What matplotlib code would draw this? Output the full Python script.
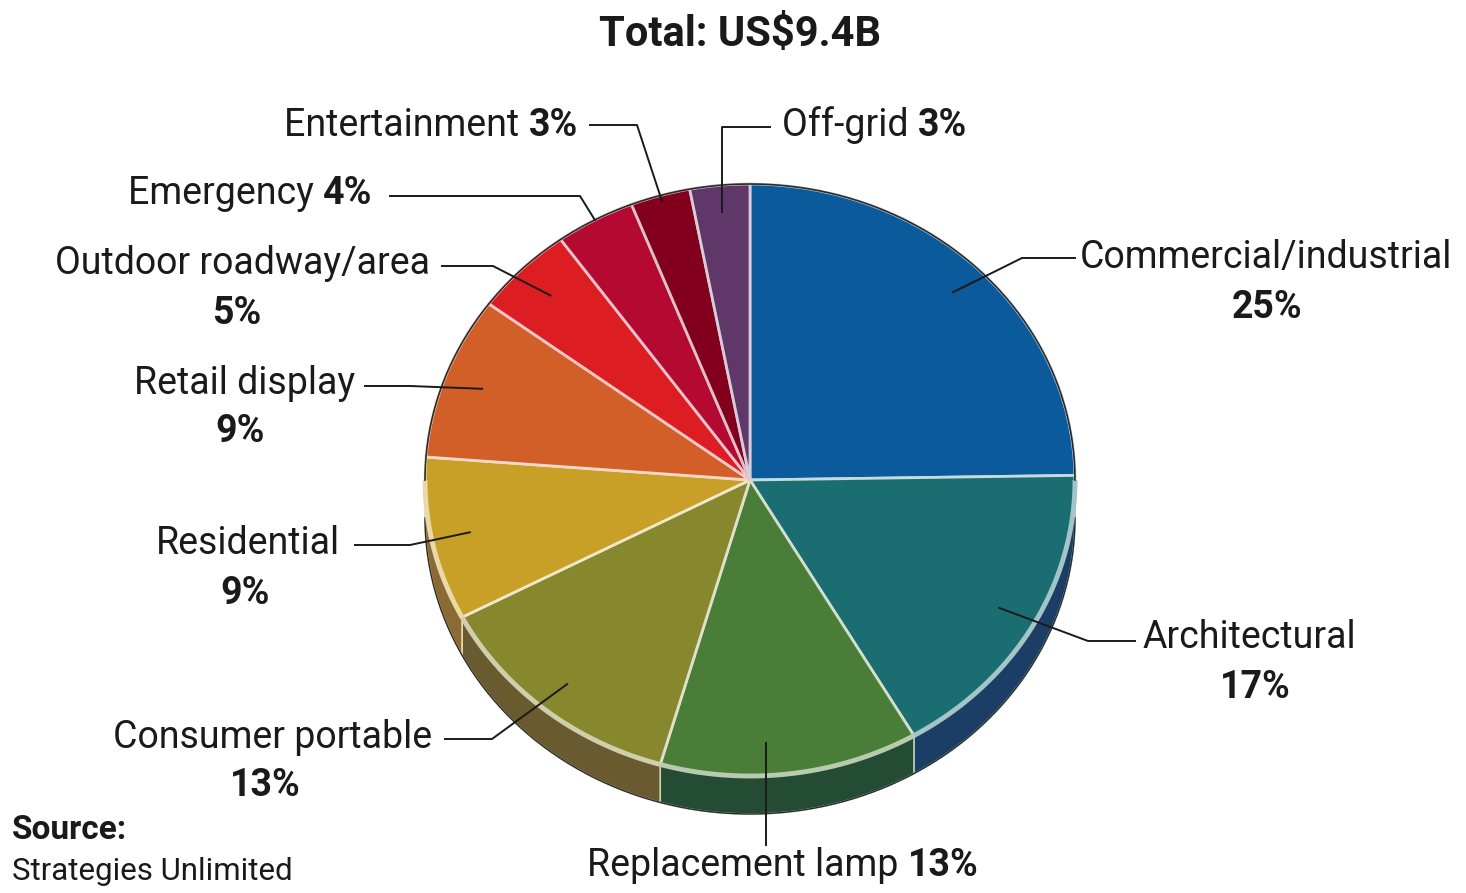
import numpy as np
import matplotlib
matplotlib.use('Agg')
from matplotlib import pyplot as plt
from matplotlib.patches import Polygon
from matplotlib.colors import to_rgb

# 市场份额 (%)，从正上方开始顺时针
segments = ['Commercial/industrial', 'Architectural', 'Replacement lamp',
            'Consumer portable', 'Residential', 'Retail display',
            'Outdoor roadway/area', 'Emergency', 'Entertainment', 'Off-grid']
shares = [25, 17, 13, 13, 9, 9, 5, 4, 3, 3]
title = 'Total: US$9.4B'

colors = ['#0a5a9c', '#1a6e72', '#4a7d38', '#87872e', '#c8a028',
          '#d25f28', '#dc1e23', '#b40a32', '#82001e', '#5f3769']
side_colors = ['#0a3c6e', '#1c3e66', '#244b34', '#6a5a30', '#8c6a34',
               '#8c3c1c', '#8c1418', '#70061e', '#500012', '#3c2244']

W, H = 1466, 893
cx, cy = 750, 480          # 饼图中心 (像素)
rx, ry = 325, 296          # 椭圆半径
depth = 38                 # 侧面厚度
k = ry / rx

fonts = ['Liberation Sans Narrow', 'Roboto', 'DejaVu Sans']
plt.rcParams['font.family'] = fonts

fig = plt.figure(figsize=(W / 100, H / 100), dpi=100)
fig.patch.set_facecolor('white')

# 饼图坐标轴：x 为像素，y 按 k 缩放，使圆变成椭圆
ax = fig.add_axes([0, 0, 1, 1])
pc = (cx, (H - cy) / k)
wedges, _ = ax.pie(shares, colors=colors, startangle=90, counterclock=False,
                   center=pc, radius=rx,
                   wedgeprops=dict(linewidth=2.0, zorder=3))
ax.set_aspect('auto')
ax.set_xlim(0, W)
ax.set_ylim(0, H / k)
ax.axis('off')


def tint(c, a):
    r = np.array(to_rgb(c))
    return tuple(r + (1 - r) * a)


for w, c in zip(wedges, colors):
    w.set_edgecolor(tint(c, 0.75))

# 侧面 (下半圈)
d = depth / k
for w, sc, c in zip(wedges, side_colors, colors):
    t1, t2 = w.theta1, w.theta2
    for off in (-360, 0, 360):
        a = max(t1, 180 + off)
        b = min(t2, 360 + off)
        if b <= a:
            continue
        phi = np.radians(np.linspace(a, b, 60))
        xs = pc[0] + rx * np.cos(phi)
        ys = pc[1] + rx * np.sin(phi)
        pts = np.concatenate([np.c_[xs, ys], np.c_[xs[::-1], ys[::-1] - d]])
        ax.add_patch(Polygon(pts, closed=True, facecolor=sc,
                             edgecolor=tint(c, 0.6), linewidth=1.2, zorder=1))
        # 顶面下沿的高光
        ax.plot(xs, ys, color=tint(c, 0.6), lw=3.5, zorder=4,
                solid_capstyle='butt')

# 上半圈的深色轮廓
phi = np.radians(np.linspace(0, 180, 200))
ax.plot(pc[0] + rx * np.cos(phi), pc[1] + rx * np.sin(phi),
        color='#2a2a2a', lw=1.2, zorder=4)
phi = np.radians(np.linspace(180, 360, 200))
ax.plot(pc[0] + rx * np.cos(phi), pc[1] + rx * np.sin(phi) - d,
        color='#2a2a2a', lw=1.0, zorder=2)

# 文字和引线坐标轴 (像素坐标，y 向下)
tx = fig.add_axes([0, 0, 1, 1], facecolor='none')
tx.set_xlim(0, W)
tx.set_ylim(H, 0)
tx.axis('off')
rend = fig.canvas.get_renderer()

fs = 27
tx.text(740, 35, title, ha='center', va='center', fontsize=30,
        fontweight='bold', color='#1a1a1a')


def mixed(x, y, reg, bold, ha):
    # 常规文字 + 粗体百分比，同一基线
    t1 = tx.text(0, y, reg + ' ', fontsize=fs, va='center', color='#1a1a1a')
    t2 = tx.text(0, y, bold, fontsize=fs, va='center', fontweight='bold',
                 color='#1a1a1a')
    w1 = t1.get_window_extent(rend).width
    w2 = t2.get_window_extent(rend).width
    if ha == 'left':
        x0 = x
    elif ha == 'right':
        x0 = x - w1 - w2
    else:
        x0 = x - (w1 + w2) / 2
    t1.set_x(x0)
    t2.set_x(x0 + w1)


# 标签布局: (引线起点半径比例, 角度偏移, 拐点, 终点, 文字位置, 对齐, 单行?, 百分比位置)
layout = [
    (0.89, 0, (1022, 258), (1075, 258), (1080, 258), 'left', False, (1267, 307)),
    (0.88, 0, (1088, 641), (1135, 641), (1143, 637), 'left', False, (1255, 688)),
    (0.89, -4, None, (767, 845), (783, 865), 'center', True, None),
    (0.89, 0, (492, 739), (445, 739), (432, 737), 'right', False, (265, 785)),
    (0.88, 0, (410, 545), (355, 545), (340, 543), 'right', False, (245, 594)),
    (0.88, 0, (410, 386), (365, 386), (355, 383), 'right', False, (240, 432)),
    (0.875, 0, (493, 266), (442, 266), (430, 263), 'right', False, (237, 313)),
    (1.0, 0, (580, 196), (390, 196), (372, 193), 'right', True, None),
    (0.98, 0, (637, 125), (590, 125), (578, 125), 'right', True, None),
    (0.91, 0, None, (770, 127), (782, 125), 'left', True, None),
]

for w, name, val, (f, dang, elbow, end, tpos, ha, single, ppos) in zip(
        wedges, segments, shares, layout):
    mid = np.radians((w.theta1 + w.theta2) / 2 + dang)
    sx = cx + rx * f * np.cos(mid)
    sy = cy - ry * f * np.sin(mid)
    if elbow is None:
        if single and ha == 'center':
            elbow = (sx, sy)
            end = (sx, end[1])
        else:
            elbow = (sx, end[1])
    tx.plot([sx, elbow[0], end[0]], [sy, elbow[1], end[1]],
            color='#1a1a1a', lw=1.4, zorder=5)
    pct = f'{val}%'
    if single:
        mixed(tpos[0], tpos[1], name, pct, ha)
    else:
        tx.text(tpos[0], tpos[1], name, ha=ha, va='center', fontsize=fs,
                color='#1a1a1a')
        tx.text(ppos[0], ppos[1], pct, ha='center', va='center', fontsize=fs,
                fontweight='bold', color='#1a1a1a')

tx.text(12, 830, 'Source:', ha='left', va='center', fontsize=24,
        fontweight='bold', color='#1a1a1a')
tx.text(12, 872, 'Strategies Unlimited', ha='left', va='center', fontsize=22.5,
        color='#1a1a1a')

fig.savefig('out.png', dpi=100)
